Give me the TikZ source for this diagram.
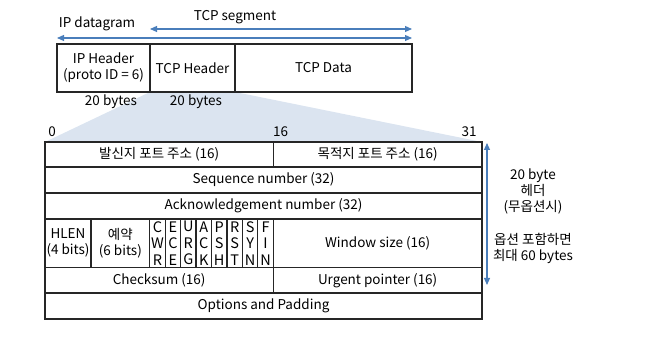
\documentclass[tikz,border=0pt]{standalone}
\usepackage{fontspec}
\setmainfont{Noto Sans CJK KR}
\usetikzlibrary{arrows.meta,backgrounds}
\definecolor{arrblue}{RGB}{74,126,187}
\definecolor{zoomblue}{RGB}{219,228,240}
\tikzset{fld/.style={draw=black!85, rectangle, line width=1.25pt, inner sep=0pt, outer sep=0pt, anchor=north west, align=center}}
\tikzset{lbl/.style={inner sep=0pt, outer sep=0pt, align=center}}
\tikzset{arr/.style={draw=arrblue, line width=1.1pt, {Triangle[length=7pt,width=6pt]}-{Triangle[length=7pt,width=6pt]}}}

\begin{document}
\begin{tikzpicture}[x=1pt,y=-1pt,font=\fontsize{13.5}{16}\selectfont]
\useasboundingbox (0,0) rectangle (654,352);
% packet
\node[fld, minimum width=93pt, minimum height=48pt] (iph) at (57,44) {IP Header\\(proto ID = 6)};
\node[fld, minimum width=85pt, minimum height=48pt] (tcph) at (150,44) {TCP Header};
\node[fld, minimum width=177pt, minimum height=48pt] (tcpd) at (235,44) {TCP Data};
\node[lbl] (ipdg) at (97,24) {IP datagram};
\node[lbl] (tcpseg) at (235,17) {TCP segment};
\coordinate (ipl) at (57,38);
\coordinate (ipr) at (412,38);
\coordinate (segl) at (150,29);
\coordinate (segr) at (412,29);
\draw[arr] (ipl) -- (ipr);
\draw[arr] (segl) -- (segr);
\node[lbl] (iplen) at (111,102) {20 bytes};
\node[lbl] (tcplen) at (196,102) {20 bytes};
% header
\node[fld, minimum width=228.3pt, minimum height=25pt] (src) at (45,142) {발신지 포트 주소 (16)};
\node[fld, minimum width=208.7pt, minimum height=25pt] (dst) at (273.3,142) {목적지 포트 주소 (16)};
\node[fld, minimum width=437pt, minimum height=26pt] (seq) at (45,167) {Sequence number (32)};
\node[fld, minimum width=437pt, minimum height=26pt] (ack) at (45,193) {Acknowledgement number (32)};
\node[fld, minimum width=46pt, minimum height=48.5pt] (hlen) at (45,219) {HLEN\\(4 bits)};
\node[fld, minimum width=58.7pt, minimum height=48.5pt] (rsv) at (91,219) {예약\\(6 bits)};
\foreach \a/\b/\c [count=\i from 0] in {C/W/R,E/C/E,U/R/G,A/C/K,P/S/H,R/S/T,S/Y/N,F/I/N}{
\node[fld, minimum width=15.45pt, minimum height=48.5pt, font=\fontsize{14.5}{16.5}\selectfont] (flag\i) at ({149.7+15.45*\i},219) {\a\\\b\\\c};
}
\node[fld, minimum width=208.7pt, minimum height=48.5pt] (win) at (273.3,219) {Window size (16)};
\node[fld, minimum width=228.3pt, minimum height=25.5pt] (chk) at (45,267.5) {Checksum (16)};
\node[fld, minimum width=208.7pt, minimum height=25.5pt] (urg) at (273.3,267.5) {Urgent pointer (16)};
\node[fld, minimum width=437pt, minimum height=26pt] (opt) at (45,293) {Options and Padding};
\node[lbl] (b0) at (52,132) {0};
\node[lbl] (b16) at (280.5,132) {16};
\node[lbl] (b31) at (469,132) {31};
\begin{scope}[on background layer]
\fill[zoomblue] (tcph.south west) -- (tcph.south east) -- (dst.north east) -- (src.north west) -- cycle;
\end{scope}
% length
\coordinate (hdt) at (487,143);
\coordinate (hdb) at (487,285);
\draw[arr] (hdt) -- (hdb);
\node[lbl] (hdr) at (533,191) {20 byte\\헤더\\(무옵션시)};
\node[lbl] (maxlen) at (533,248) {옵션 포함하면\\최대 60 bytes};
\end{tikzpicture}
\end{document}
